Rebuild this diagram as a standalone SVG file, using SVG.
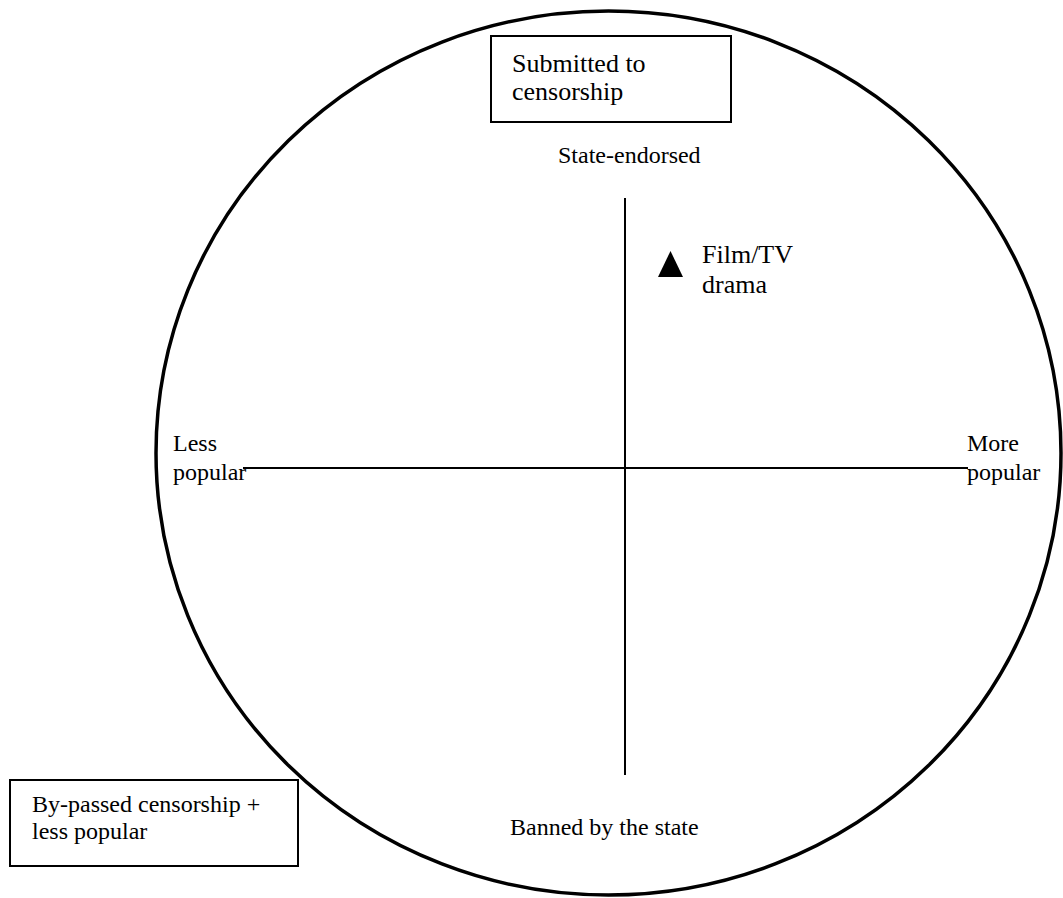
<svg xmlns="http://www.w3.org/2000/svg" width="1063" height="898" viewBox="0 0 1063 898">
<style>
.s{font-size:24px}
.l{font-size:26px}
.box{fill:#fff;stroke:#000;stroke-width:2}
.ax{stroke:#000;stroke-width:2;fill:none}
</style>
<rect width="1063" height="898" fill="#fff"/>
<g id="circle">
<ellipse cx="608.5" cy="453" rx="452.5" ry="442" fill="none" stroke="#000" stroke-width="3.5"/>
</g>
<g id="connectors">
<line class="ax" x1="625" y1="198" x2="625" y2="775"/>
<line class="ax" x1="243" y1="468" x2="968" y2="468"/>
</g>
<g font-family="'Liberation Serif', 'Times New Roman', 'DejaVu Serif', serif" fill="#000">
<g id="submitted">
<rect class="box" x="491" y="36" width="240" height="86"/>
<text class="l" x="512" y="72">Submitted to</text>
<text class="l" x="512" y="100">censorship</text>
</g>
<g id="state-endorsed"><text class="s" x="558" y="163">State-endorsed</text></g>
<g id="film">
<polygon points="670.5,251 683,277 658,277" fill="#000"/>
<text class="l" x="702" y="263">Film/TV</text>
<text class="l" x="702" y="293">drama</text>
</g>
<g id="less"><text class="s" x="173" y="451">Less</text><text class="s" x="173" y="480">popular</text></g>
<g id="more"><text class="s" x="967" y="451">More</text><text class="s" x="967" y="480">popular</text></g>
<g id="banned"><text class="s" x="510" y="835">Banned by the state</text></g>
<g id="bypassed">
<rect class="box" x="10" y="780" width="288" height="86"/>
<text class="s" x="32" y="812">By-passed censorship +</text>
<text class="s" x="32" y="839">less popular</text>
</g>
</g>
</svg>
